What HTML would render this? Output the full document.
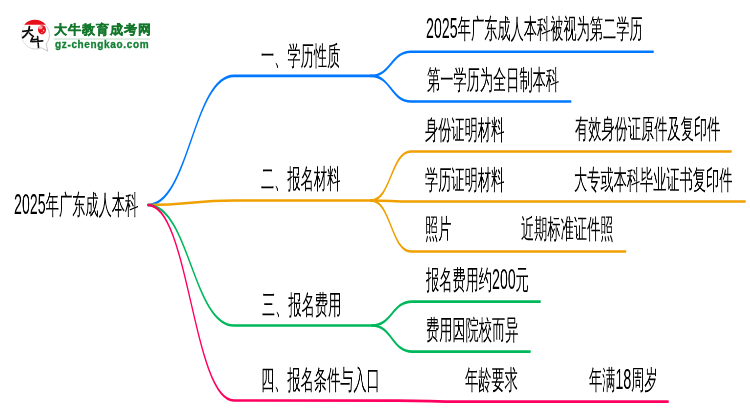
<!DOCTYPE html>
<html><head><meta charset="utf-8"><style>
html,body{margin:0;padding:0;background:#fff;width:750px;height:410px;overflow:hidden;position:relative}
.t,.lt1,.lt2{will-change:transform}
.lines{position:absolute;left:0;top:0}
.logo{position:absolute;left:0;top:0}
.t{position:absolute;font-family:"Liberation Sans",sans-serif;font-size:27px;line-height:27px;white-space:nowrap;color:#000;transform-origin:0 0;transform:scaleX(0.489)}
.d{font-size:29px;}
.lt1{position:absolute;left:54px;top:23px;-webkit-text-stroke:0.35px #13772b;font-family:"Liberation Sans",sans-serif;font-size:13px;line-height:14px;font-weight:bold;color:#13772b;letter-spacing:1px;white-space:nowrap}
.lt2{position:absolute;left:55px;top:39px;-webkit-text-stroke:0.3px #138034;font-family:"Liberation Sans",sans-serif;font-size:10px;line-height:12px;font-weight:bold;color:#138034;letter-spacing:0.65px;white-space:nowrap}
</style></head><body>
<svg class="lines" width="750" height="410" viewBox="0 0 750 410"><g transform="scale(0.489,1)" fill="none" stroke-width="2.6" stroke-linecap="round"><path d="M302.65848670756645,205 C386.5030674846626,205 394.6830265848671,75.9 478.5276073619632,75.9 L758.6912065439673,75.9" stroke="#0078ff"/><path d="M758.6912065439673,75.9 C799.5910020449898,75.9 799.5910020449898,51.7 840.4907975460122,51.7 L1335.7873210633948,51.7" stroke="#0078ff"/><path d="M758.6912065439673,75.9 C799.5910020449898,75.9 799.5910020449898,101.5 840.4907975460122,101.5 L1167.2801635991818,101.5" stroke="#0078ff"/><path d="M302.65848670756645,205 C386.5030674846626,205 394.6830265848671,200.5 478.5276073619632,200.5 L758.6912065439673,200.5" stroke="#f0a000"/><path d="M758.6912065439673,200.5 C799.5910020449898,200.5 799.5910020449898,151.5 840.4907975460122,151.5 L1495.2965235173826,151.5" stroke="#f0a000"/><path d="M758.6912065439673,200.5 C799.5910020449898,200.5 799.5910020449898,201.5 840.4907975460122,201.5 L1523.9263803680983,201.5" stroke="#f0a000"/><path d="M758.6912065439673,200.5 C799.5910020449898,200.5 799.5910020449898,251.5 840.4907975460122,251.5 L1279.5501022494889,251.5" stroke="#f0a000"/><path d="M302.65848670756645,205 C386.5030674846626,205 394.6830265848671,325.5 478.5276073619632,325.5 L760.7361963190184,325.5" stroke="#00b85c"/><path d="M760.7361963190184,325.5 C801.6359918200409,325.5 801.6359918200409,301.6 842.5357873210634,301.6 L1104.7034764826176,301.6" stroke="#00b85c"/><path d="M760.7361963190184,325.5 C801.6359918200409,325.5 801.6359918200409,351.6 842.5357873210634,351.6 L1084.2535787321065,351.6" stroke="#00b85c"/><path d="M302.65848670756645,205 C386.5030674846626,205 394.6830265848671,400.5 478.5276073619632,400.5 L813.9059304703477,400.6 C879.3456032719837,400.6 879.3456032719837,401.6 944.7852760736197,401.6 L1366.4621676891618,401.6" stroke="#ff0060"/></g></svg>
<svg class="logo" width="160" height="60" viewBox="0 0 160 60">
<defs><linearGradient id="og" x1="0" y1="0" x2="1" y2="0.6"><stop offset="0" stop-color="#ececec"/><stop offset="1" stop-color="#c0c0c0"/></linearGradient></defs><path d="M46.2,44 A14,14 0 1 0 41.4,47.7 L47.8,51.3 Z" fill="#fff" stroke="url(#og)" stroke-width="0.9"/>
<path d="M24.2,24.8 A14,14 0 0 1 45.8,24.8 Z" fill="#e60f1a"/>
<ellipse cx="42" cy="29.8" rx="4" ry="4.6" fill="#e8101a"/><ellipse cx="40.6" cy="27.4" rx="2" ry="1.9" fill="#f4a8a8"/><circle cx="43.6" cy="30.6" r="0.8" fill="#fbd0d0"/><circle cx="41.8" cy="32.6" r="0.6" fill="#f8c0c0"/>
<path d="M22.8,31.4 L32.3,30.2" stroke="#111" stroke-width="1.7" fill="none" stroke-linecap="round"/>
<path d="M29.4,26.8 C29.2,31 26.5,35 22.8,37.6" stroke="#111" stroke-width="1.9" fill="none" stroke-linecap="round"/>
<path d="M29.3,33 C30.5,34.5 31.8,35.6 33.5,36.4" stroke="#111" stroke-width="1.5" fill="none" stroke-linecap="round"/>
<path d="M32.5,37.3 L30.8,41.6 M31.3,39.9 L37,39.3 M32.3,41.8 L42.7,40.9 M37.6,36.5 L38.5,47.5" stroke="#111" stroke-width="1.6" fill="none" stroke-linecap="round"/>
<line x1="54" y1="39" x2="150" y2="39" stroke="#d3e6d8" stroke-width="1.3"/>
</svg>
<div class="lt1">大牛教育成考网</div>
<div class="lt2">gz-chengkao.com</div>

<div class="t" style="left:14px;top:190.8px;"><span class="d">2025</span>年广东成人本科</div>
<div class="t" style="left:261.3px;top:42.5px;">一、学历性质</div>
<div class="t" style="left:260.9px;top:166.2px;">二、报名材料</div>
<div class="t" style="left:261.6px;top:292px;">三、报名费用</div>
<div class="t" style="left:260.7px;top:367px;">四、报名条件与入口</div>
<div class="t" style="left:425.8px;top:15px;"><span class="d">2025</span>年广东成人本科被视为第二学历</div>
<div class="t" style="left:427px;top:66.5px;">第一学历为全日制本科</div>
<div class="t" style="left:424.7px;top:116.8px;">身份证明材料</div>
<div class="t" style="left:574.5px;top:116.3px;">有效身份证原件及复印件</div>
<div class="t" style="left:424.8px;top:166.6px;">学历证明材料</div>
<div class="t" style="left:574px;top:166.6px;">大专或本科毕业证书复印件</div>
<div class="t" style="left:424.5px;top:216.3px;">照片</div>
<div class="t" style="left:521.1px;top:216.3px;">近期标准证件照</div>
<div class="t" style="left:425.5px;top:265.8px;">报名费用约<span class="d">200</span>元</div>
<div class="t" style="left:425.5px;top:317px;">费用因院校而异</div>
<div class="t" style="left:464.9px;top:366.7px;">年龄要求</div>
<div class="t" style="left:588.8px;top:365.8px;">年满<span class="d">18</span>周岁</div>

</body></html>
